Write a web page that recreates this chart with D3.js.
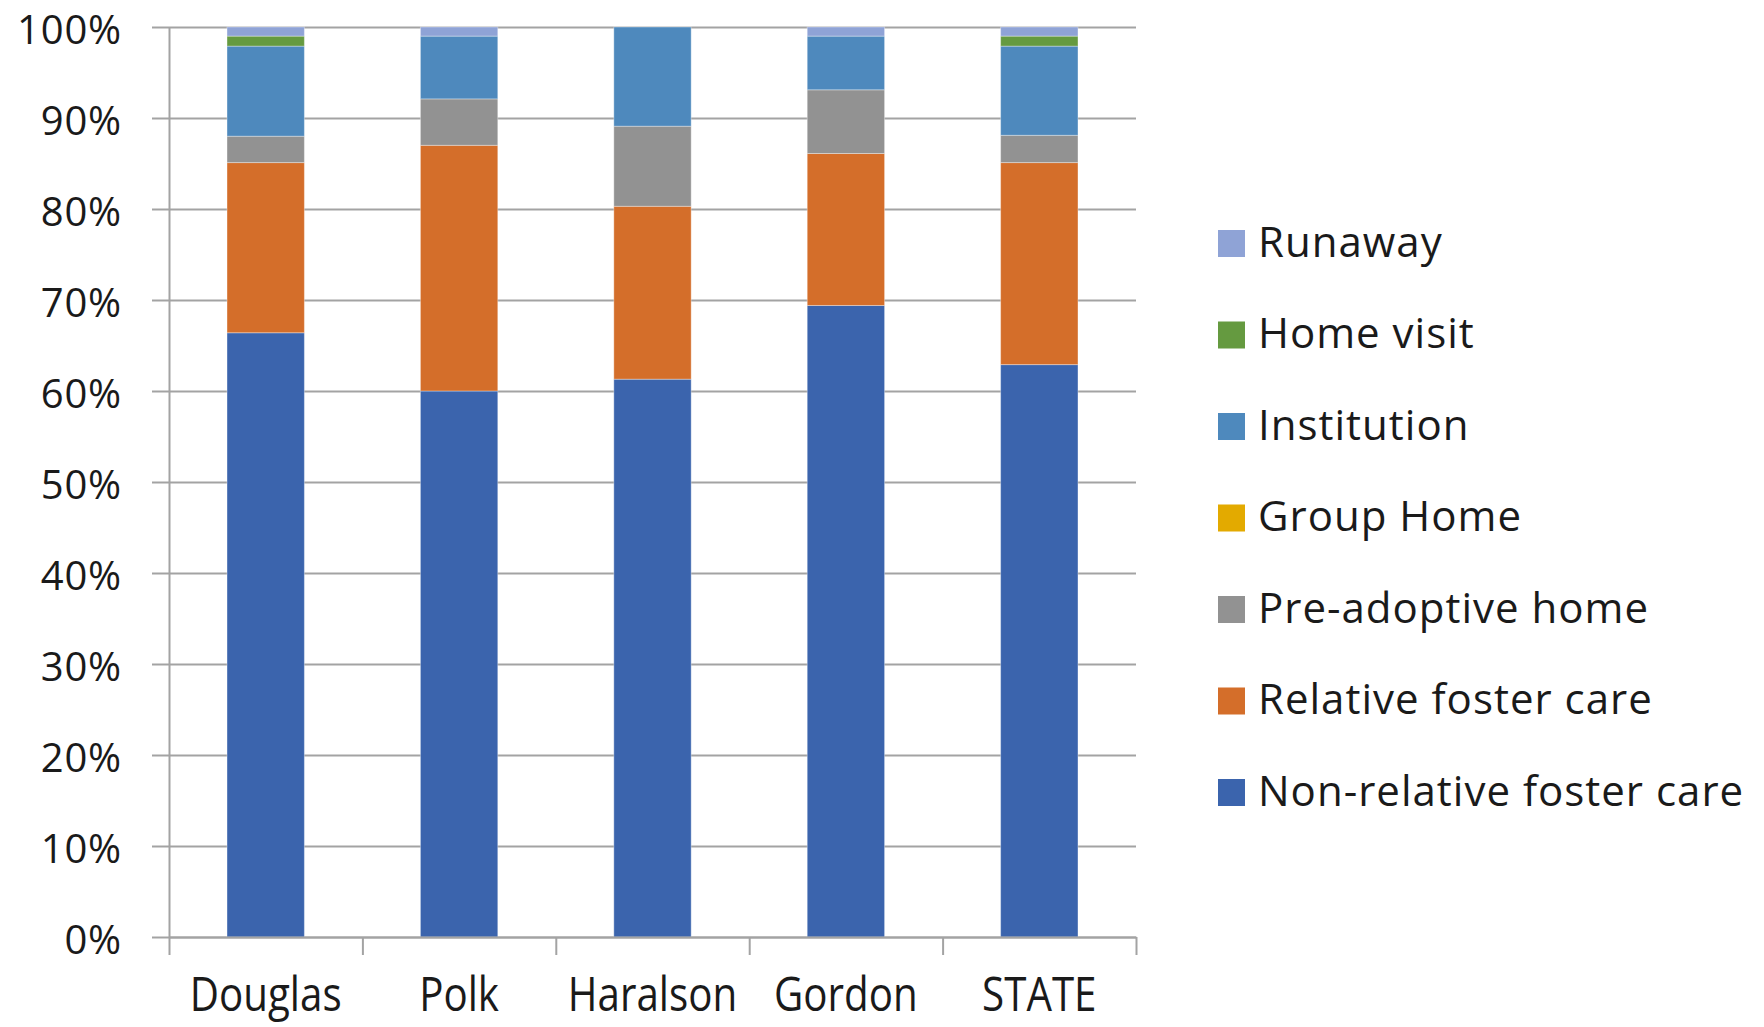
<!DOCTYPE html>
<html><head><meta charset="utf-8">
<script src="https://cdn.jsdelivr.net/npm/d3@7"></script>
<style>
html,body{margin:0;padding:0;background:#fff;}
svg{display:block;}
text{font-family:"Open Sans",sans-serif;fill:#1a1a1a;}
</style></head>
<body>
<svg id="chart" width="1764" height="1027"></svg>
<script>
// ---- data ----
const categories = ["Douglas", "Polk", "Haralson", "Gordon", "STATE"];
const seriesNames = ["Non-relative foster care", "Relative foster care", "Pre-adoptive home", "Group Home", "Institution", "Home visit", "Runaway"];
const nonRelative = [66.4, 60.0, 61.3, 69.4, 62.9];
const relative    = [18.7, 27.0, 19.0, 16.7, 22.2];
const preAdoptive = [2.9, 5.1, 8.8, 7.0, 3.0];
const groupHome   = [0, 0, 0, 0, 0];
const institution = [9.9, 6.9, 10.9, 5.9, 9.8];
const homeVisit   = [1.1, 0, 0, 0, 1.1];
const runaway     = [1.0, 1.0, 0, 1.0, 1.0];
const yTicks = [0, 10, 20, 30, 40, 50, 60, 70, 80, 90, 100];
const colors = ["#3b64ad", "#d46e2a", "#929292", "#e3aa00", "#4e89bd", "#659a40", "#8fa3d6"];

const seriesValues = [nonRelative, relative, preAdoptive, groupHome, institution, homeVisit, runaway];
const table = categories.map((c, i) => {
  const row = {category: c};
  seriesNames.forEach((s, k) => row[s] = seriesValues[k][i]);
  return row;
});

// ---- layout ----
const svg = d3.select("#chart");
const plotLeft = 169, plotRight = 1136, plotTop = 27, plotBottom = 937;
const x = d3.scaleBand().domain(categories).range([plotLeft, plotRight]).paddingInner(0.6).paddingOuter(0.3);
const y = d3.scaleLinear().domain([0, 100]).range([plotBottom, plotTop]);
const color = d3.scaleOrdinal().domain(seriesNames).range(colors);
const gridColor = "#a3a3a3";

// gridlines
const grid = svg.append("g").attr("transform", `translate(${plotLeft},0)`)
  .call(d3.axisLeft(y).tickValues(yTicks).tickSize(-(plotRight - plotLeft)).tickFormat(""));
grid.select(".domain").remove();
grid.selectAll("line").attr("stroke", gridColor).attr("stroke-width", 2);

// y axis with outward ticks and labels
const yAxis = svg.append("g").attr("transform", `translate(${plotLeft},0)`)
  .call(d3.axisLeft(y).tickValues(yTicks).tickSize(17).tickSizeOuter(0).tickPadding(30).tickFormat(d => d + "%"));
yAxis.select(".domain").attr("stroke", gridColor).attr("stroke-width", 2);
yAxis.selectAll("line").attr("stroke", gridColor).attr("stroke-width", 2);
yAxis.selectAll("text").attr("font-size", 40).attr("font-family", "Open Sans").attr("fill", "#1a1a1a")
  .attr("letter-spacing", 0.8).attr("dy", "0.4em");

// bars
const stack = d3.stack().keys(seriesNames);
const stacked = stack(table);
svg.append("g").selectAll("g").data(stacked).join("g")
  .attr("fill", d => color(d.key))
  .selectAll("rect").data(d => d).join("rect")
  .attr("x", d => x(d.data.category))
  .attr("width", x.bandwidth())
  .attr("y", d => y(d[1]))
  .attr("height", d => Math.max(0, y(d[0]) - y(d[1])))
  .attr("stroke", d => (d[1] - d[0]) > 0 ? "#ffffff" : "none")
  .attr("stroke-opacity", 0.35)
  .attr("stroke-width", 1);

// x axis with ticks at category edges
const edge = d3.scaleLinear().domain([0, categories.length]).range([plotLeft, plotRight]);
const xAxis = svg.append("g").attr("transform", `translate(0,${plotBottom})`)
  .call(d3.axisBottom(edge).tickValues(d3.range(categories.length + 1)).tickSize(18).tickSizeOuter(0).tickFormat(""));
xAxis.select(".domain").attr("stroke", gridColor).attr("stroke-width", 2);
xAxis.selectAll("line").attr("stroke", gridColor).attr("stroke-width", 2);

// category labels (condensed look)
svg.append("g").selectAll("text").data(categories).join("text")
  .attr("transform", d => `translate(${x(d) + x.bandwidth() / 2},1011) scale(0.84,1)`)
  .attr("text-anchor", "middle")
  .attr("font-size", 48)
  .text(d => d);

// legend
const legendNames = seriesNames.slice().reverse();
const lg = svg.append("g").selectAll("g").data(legendNames).join("g")
  .attr("transform", (d, i) => `translate(1218,${243.5 + i * 91.5})`);
lg.append("rect").attr("x", 0).attr("y", -13.5).attr("width", 27).attr("height", 27)
  .attr("fill", d => color(d));
lg.append("text").attr("x", 40).attr("y", 13).attr("font-size", 42).attr("letter-spacing", 1).text(d => d);
</script>
</body></html>
